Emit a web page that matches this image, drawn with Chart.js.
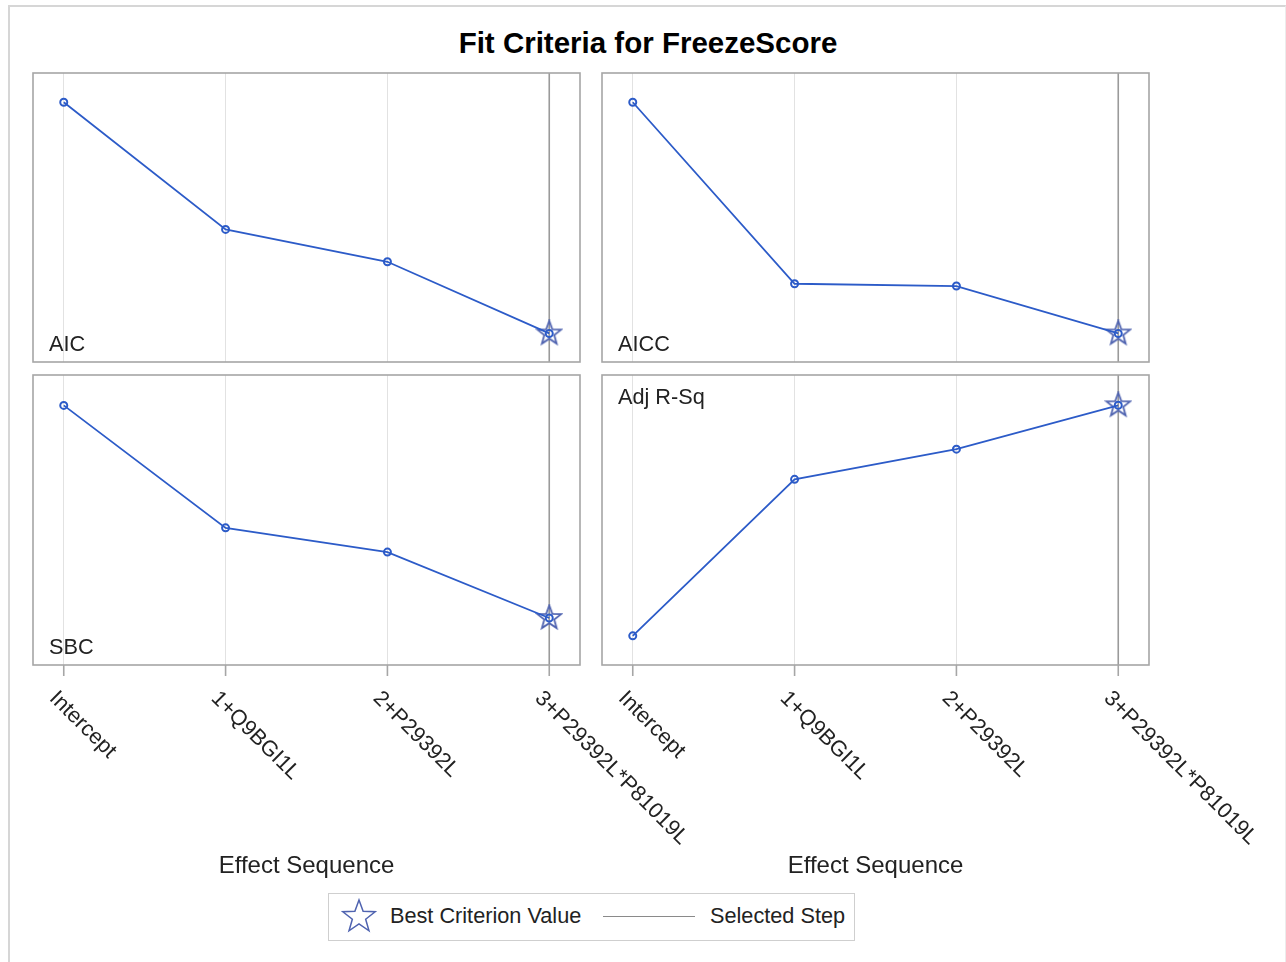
<!DOCTYPE html>
<html lang="en">
<head>
<meta charset="UTF-8">
<script src="https://cdn.jsdelivr.net/npm/chart.js"></script>
<title>Fit Criteria for FreezeScore</title>
<style>
  body { margin: 0; background: #fff; font-family: "Liberation Sans", Arial, sans-serif; }
  .frame { position: absolute; left: 8px; top: 5px; width: 1275px; height: 970px;
           border-left: 2px solid #d6d6d6; border-top: 2px solid #d6d6d6; border-right: 1px solid #ececec; }
  .titulo { position: absolute; left: 0; width: 1296px; top: 25px; text-align: center;
            font-weight: bold; font-size: 29.5px; color: #000; line-height: 36px; }
  canvas { position: absolute; }
  .legenda { position: absolute; left: 328px; top: 893px; width: 525px; height: 46px;
             border: 1px solid #cfcfcf; font-size: 21.7px; color: #222; }
  .legenda span { position: absolute; top: 9px; }
</style>
</head>
<body>
  <div class="frame"></div>
  <div class="titulo">Fit Criteria for FreezeScore</div>

  <canvas id="aic" width="551" height="293" style="left:31px;top:71px"></canvas>
  <canvas id="aicc" width="551" height="293" style="left:600px;top:71px"></canvas>
  <canvas id="sbc" width="720" height="512" style="left:31px;top:373px"></canvas>
  <canvas id="rsq" width="680" height="512" style="left:600px;top:373px"></canvas>

  <div class="legenda">
    <svg style="position:absolute;left:11px;top:4px" width="38" height="38" viewBox="-19 -19 38 38">
      <polygon id="estrela" fill="none" stroke="#4f63b0" stroke-width="1.5"></polygon>
    </svg>
    <span style="left:61px">Best Criterion Value</span>
    <div style="position:absolute;left:274px;top:22px;width:92px;border-top:1.5px solid #8a8a8a"></div>
    <span style="left:381px">Selected Step</span>
  </div>

<script>
    // dados (escala y sem rotulos, valores relativos)
    const categorias = ['Intercept', '1+Q9BGI1L', '2+P29392L', '3+P29392L*P81019L'];
    const aic = [52.0, 41.0, 38.2, 32.0];
    const aicc = [55.0, 39.3, 39.1, 35.0];
    const sbc = [58.0, 47.4, 45.3, 39.6];
    const adjRsq = [0, 0.353, 0.421, 0.52];
    const passoEscolhido = 3;
    const melhorPasso = 3;

    const azul = '#2c5bc8';
    const corEstrela = '#4f63b0';
    const fonte = '21.7px "Liberation Sans", Arial, sans-serif';

    // estrela de 5 pontas para o marcador
    function pontosEstrela(rExt, rInt) {
        const pts = [];
        for (let i = 0; i < 10; i++) {
            const r = i % 2 === 0 ? rExt : rInt;
            const ang = -Math.PI / 2 + i * Math.PI / 5;
            pts.push([r * Math.cos(ang), r * Math.sin(ang)]);
        }
        return pts;
    }
    document.getElementById('estrela').setAttribute('points',
        pontosEstrela(17, 7).map(p => p[0].toFixed(2) + ',' + p[1].toFixed(2)).join(' '));

    const estrela = document.createElement('canvas');
    estrela.width = 28; estrela.height = 28;
    (function () {
        const c = estrela.getContext('2d');
        c.translate(14, 14);
        c.beginPath();
        pontosEstrela(12.5, 5.2).forEach((p, i) => i ? c.lineTo(p[0], p[1]) : c.moveTo(p[0], p[1]));
        c.closePath();
        c.strokeStyle = corEstrela;
        c.lineWidth = 1.8;
        c.stroke();
    })();

    const pluginPainel = {
        id: 'painel',
        beforeDatasetsDraw(chart, args, opts) {
            const { ctx, chartArea: a, scales: { x } } = chart;
            const px = x.getPixelForValue(passoEscolhido);
            ctx.save();
            ctx.strokeStyle = '#9a9a9a';
            ctx.lineWidth = 1.6;
            ctx.beginPath();
            ctx.moveTo(px, a.top);
            ctx.lineTo(px, a.bottom);
            ctx.stroke();
            ctx.restore();
        },
        afterDraw(chart, args, opts) {
            const { ctx, chartArea: a, scales: { x } } = chart;
            ctx.save();
            ctx.strokeStyle = '#a6a6a6';
            ctx.lineWidth = 1.6;
            ctx.strokeRect(a.left, a.top, a.right - a.left, a.bottom - a.top);

            ctx.fillStyle = '#222';
            ctx.font = fonte;
            if (opts.embaixo) {
                ctx.textBaseline = 'alphabetic';
                ctx.fillText(opts.rotulo, a.left + 16, a.bottom - 11);
            } else {
                ctx.textBaseline = 'top';
                ctx.fillText(opts.rotulo, a.left + 16, a.top + 12);
            }

            if (opts.eixo) {
                categorias.forEach((cat, i) => {
                    const px = x.getPixelForValue(i);
                    ctx.strokeStyle = '#a6a6a6';
                    ctx.beginPath();
                    ctx.moveTo(px, a.bottom);
                    ctx.lineTo(px, a.bottom + 11);
                    ctx.stroke();
                    ctx.save();
                    ctx.translate(px - 11, a.bottom + 30);
                    ctx.rotate(Math.PI / 4);
                    ctx.textAlign = 'left';
                    ctx.textBaseline = 'middle';
                    ctx.fillText(cat, 0, 0);
                    ctx.restore();
                });
                ctx.font = '24px "Liberation Sans", Arial, sans-serif';
                ctx.textAlign = 'center';
                ctx.textBaseline = 'middle';
                ctx.fillText('Effect Sequence', (a.left + a.right) / 2, a.bottom + 201);
            }
            ctx.restore();
        }
    };

    function criarPainel(id, valores, yMin, yMax, rotulo, embaixo, eixo, padDir, padBaixo) {
        new Chart(document.getElementById(id), {
            type: 'line',
            data: {
                datasets: [
                    {
                        data: valores.map((v, i) => ({ x: i, y: v })),
                        borderColor: azul,
                        borderWidth: 1.8,
                        pointRadius: 3.5,
                        pointBorderWidth: 2,
                        pointBorderColor: azul,
                        pointBackgroundColor: 'rgba(0,0,0,0)',
                        tension: 0
                    },
                    {
                        data: [{ x: melhorPasso, y: valores[melhorPasso] }],
                        showLine: false,
                        pointStyle: estrela,
                        pointRadius: 12
                    }
                ]
            },
            options: {
                responsive: false,
                animation: false,
                layout: { autoPadding: false, padding: { left: 2, right: padDir, top: 2, bottom: padBaixo } },
                plugins: {
                    legend: { display: false },
                    tooltip: { enabled: false },
                    painel: { rotulo: rotulo, embaixo: embaixo, eixo: eixo }
                },
                scales: {
                    x: {
                        type: 'linear',
                        min: -0.19,
                        max: 3.19,
                        afterBuildTicks: s => { s.ticks = categorias.map((c, i) => ({ value: i })); },
                        ticks: { display: false },
                        border: { display: false },
                        grid: { color: '#e2e2e2', lineWidth: 1, drawTicks: false }
                    },
                    y: { display: false, min: yMin, max: yMax }
                }
            },
            plugins: [pluginPainel]
        });
    }

    criarPainel('aic', aic, 29.53, 54.53, 'AIC', true, false, 2, 2);
    criarPainel('aicc', aicc, 32.53, 57.53, 'AICC', true, false, 2, 2);
    criarPainel('sbc', sbc, 35.53, 60.63, 'SBC', true, true, 171, 220);
    criarPainel('rsq', adjRsq, -0.0657, 0.5883, 'Adj R-Sq', false, true, 131, 220);
</script>
</body>
</html>
